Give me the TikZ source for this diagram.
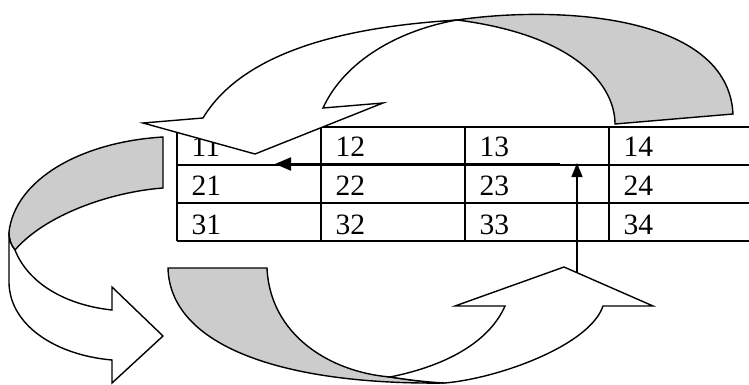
\documentclass[tikz,border=0pt]{standalone}
\usepackage{fontspec}
\setmainfont{Liberation Serif}
\usetikzlibrary{arrows.meta}
\definecolor{ribbonback}{RGB}{204,204,204}
\tikzset{
  ribbonfront/.style={draw=black, fill=white, line width=1.4pt, line join=miter},
  ribbonrear/.style={draw=black, fill=ribbonback, line width=1.4pt, line join=miter},
  gridline/.style={line width=1.7pt},
  celltext/.style={anchor=base west, inner sep=0pt, font=\fontsize{29.5}{29.5}\selectfont},
  rowpointer/.style={-{Triangle[length=16pt,width=13pt]}, line width=2.2pt},
  colpointer/.style={-{Triangle[length=14pt,width=11pt]}, line width=1.4pt}
}
\begin{document}
\begin{tikzpicture}[x=1pt,y=-1pt]
\useasboundingbox (0,0) rectangle (749,385);

% table grid
\foreach \yy in {127,165,203,241}
  \draw[gridline] (177,\yy) -- (749,\yy);
\foreach \xx in {177,321,465,609}
  \draw[gridline] (\xx,127) -- (\xx,241);

% cell entries
\foreach \r/\yy in {1/157,2/195,3/234}
  \foreach \c/\xx in {1/191.5,2/335.5,3/479.5,4/623.5}
    \node[celltext] (cell\r\c) at (\xx,\yy) {\r\c};

% straight pointers
\coordinate (hstart) at (560,164);
\coordinate (hend) at (275,164);
\draw[rowpointer] (hstart) -- (hend);
\coordinate (vstart) at (577,273);
\coordinate (vend) at (577,163);
\draw[colpointer] (vstart) -- (vend);

% upper ribbon: back face, then front face with head
\draw[ribbonrear] (457,20) .. controls (560,5) and (728,15) .. (733,114)
  -- (615,124) .. controls (615,85) and (575,35) .. (457,20) -- cycle;
\draw[ribbonfront] (143,123) -- (203,118)
  .. controls (250,40) and (380,25) .. (457,20)
  .. controls (400,30) and (345,60) .. (323,108)
  -- (383,103) -- (255,154) -- cycle;

% left ribbon
\draw[ribbonrear] (163,137) .. controls (80,142) and (15,180) .. (9,232)
  .. controls (9,240) and (11,245) .. (15,250)
  .. controls (45,215) and (110,192) .. (163,188) -- cycle;
\draw[ribbonfront] (9,232) -- (9,283)
  .. controls (10,325) and (55,355) .. (112,360)
  -- (112,383) -- (163,336) -- (112,287) -- (112,310)
  .. controls (65,305) and (28,283) .. (15,250)
  .. controls (11,245) and (9,240) .. (9,232) -- cycle;

% lower ribbon
\draw[ribbonrear] (168,268) -- (267,268)
  .. controls (270,335) and (330,372) .. (390,377)
  .. controls (410,380) and (425,382) .. (445,383)
  .. controls (280,385) and (170,345) .. (168,268) -- cycle;
\draw[ribbonfront] (505,306) .. controls (490,340) and (450,365) .. (390,377)
  .. controls (410,380) and (425,382) .. (445,383)
  .. controls (500,378) and (590,345) .. (603,306)
  -- (653,306) -- (564,267) -- (455,306) -- cycle;
\end{tikzpicture}
\end{document}
